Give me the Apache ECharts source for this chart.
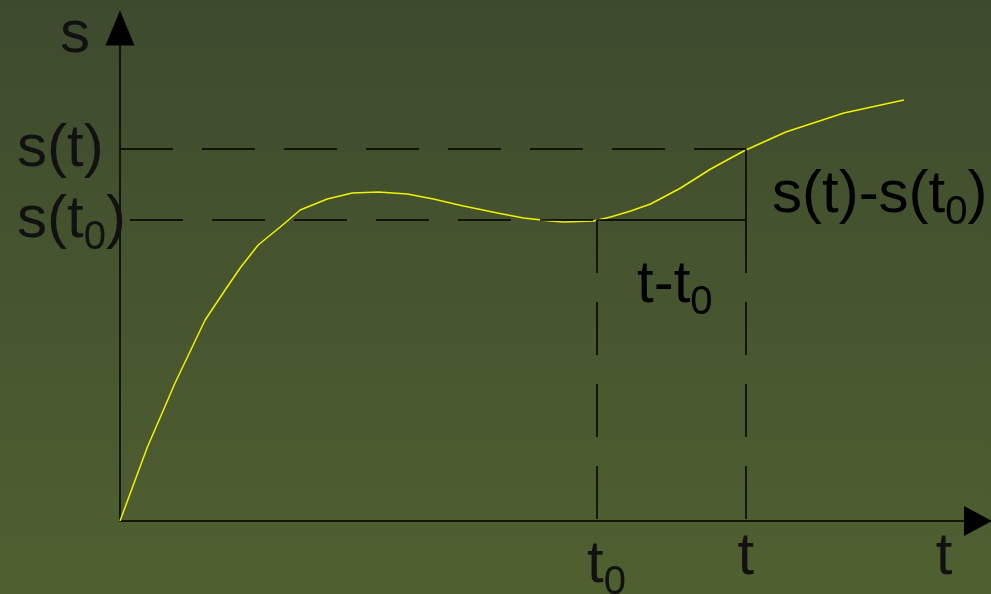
<!DOCTYPE html>
<html>
<head>
<meta charset="utf-8">
<title>s-t</title>
<script src="https://cdn.jsdelivr.net/npm/echarts@6/dist/echarts.min.js"></script>
<style>
    html, body { margin: 0; padding: 0; }
    #main_chart { width: 991px; height: 594px; }
</style>
</head>
<body>
<div id="main_chart"></div>
<script>
// 曲线上的点 (t, s)
var tVals = [0, 27, 55, 85, 105, 120, 138, 160, 180, 207, 232, 258, 287, 313, 343, 377, 403, 430, 443, 473, 490, 510, 530, 560, 590, 623, 665, 723, 783];
var sVals = [0, 73, 138, 201, 231, 253, 276, 294, 311, 322, 328, 329, 327, 322, 315, 308, 303, 300, 299, 300, 304, 310, 317, 333, 352, 370, 389, 408, 421];

// 两个时刻和对应的位移
var t0 = 476, t1 = 625;
var s0 = 301, s1 = 372;

var tLabels = ['{p|}{a|t}{b|0}', '{a|t}'];
var sLabels = ['{a|s(t}{b|0}{a|)}', '{a|s(t)}'];

var ink = '#111';
var font = 'Liberation Sans, Arial, sans-serif';
var rich = {
    a: { fontSize: 60, fontFamily: font, color: ink },
    b: { fontSize: 40, fontFamily: font, color: ink, padding: [36, 0, 0, 0] },
    p: { width: 20 }
};

var dash = [53, 29];

const myChart = echarts.init(document.getElementById('main_chart'));

var option = {
    animation: false,
    backgroundColor: new echarts.graphic.LinearGradient(0, 0, 0, 1, [
        { offset: 0, color: '#3e4a2e' },
        { offset: 1, color: '#4f6030' }
    ]),
    grid: { left: 120, right: 13, top: 28, bottom: 73, outerBoundsMode: 'none', containLabel: false },
    xAxis: {
        type: 'value',
        min: 0,
        max: 857,
        name: 't',
        nameLocation: 'end',
        nameGap: -34,
        nameTextStyle: { fontSize: 60, fontFamily: font, color: ink, align: 'center', verticalAlign: 'top', padding: [6, 0, 0, 0] },
        axisLine: { lineStyle: { color: '#000', width: 1.5 }, symbol: ['none', 'triangle'], symbolSize: [30, 28] },
        axisTick: { show: false },
        splitLine: { show: false },
        axisLabel: {
            customValues: [t0, t1],
            margin: 6,
            formatter: function (v) { return v === t0 ? tLabels[0] : tLabels[1]; },
            rich: rich
        }
    },
    yAxis: {
        type: 'value',
        min: 0,
        max: 493,
        name: 's',
        nameLocation: 'end',
        nameGap: -7,
        nameTextStyle: { fontSize: 60, fontFamily: font, color: ink, align: 'right', verticalAlign: 'middle', padding: [0, 30, 0, 0] },
        axisLine: { lineStyle: { color: '#000', width: 1.5 }, symbol: ['none', 'triangle'], symbolSize: [29, 35] },
        axisTick: { show: false },
        splitLine: { show: false },
        axisLabel: {
            customValues: [s0, s1],
            margin: 103,
            align: 'left',
            formatter: function (v) { return v === s0 ? sLabels[0] : sLabels[1]; },
            rich: rich
        }
    },
    graphic: [
        {
            type: 'text', left: 772, top: 165,
            style: { text: '{a|s(t)-s(t}{b|0}{a|)}', rich: rich }
        },
        {
            type: 'text', left: 637, top: 255,
            style: { text: '{a|t-t}{b|0}', rich: rich }
        }
    ],
    series: [
        {
            type: 'line',
            data: tVals.map(function (t, i) { return [t, sVals[i]]; }),
            showSymbol: false,
            lineStyle: { color: '#f2f200', width: 1.5 },
            markLine: {
                silent: true,
                symbol: ['none', 'none'],
                label: { show: false },
                lineStyle: { color: '#000', width: 1.5, type: dash },
                data: [
                    [{ coord: [0, s1] }, { coord: [t1, s1] }],
                    [{ coord: [0, s0], lineStyle: { type: dash, dashOffset: 72 } }, { coord: [t0, s0] }],
                    [{ coord: [t0, s0], lineStyle: { type: 'solid' } }, { coord: [t1, s0] }],
                    [{ coord: [t1, s1], lineStyle: { type: 'solid' } }, { coord: [t1, s0] }],
                    [{ coord: [t0, s0] }, { coord: [t0, 0] }],
                    [{ coord: [t1, s0] }, { coord: [t1, 0] }]
                ]
            }
        }
    ]
};

myChart.setOption(option);
window.onresize = function () {
    myChart.resize();
};
</script>
</body>
</html>
